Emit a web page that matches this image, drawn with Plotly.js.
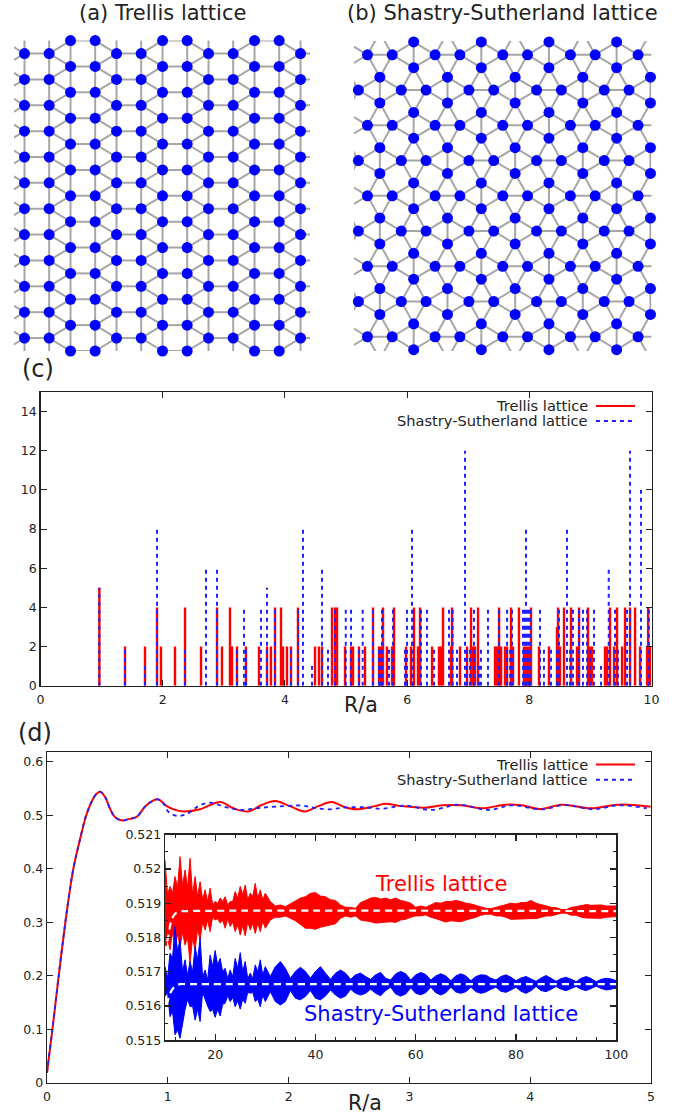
<!DOCTYPE html>
<html><head><meta charset="utf-8">
<script src="https://cdn.plot.ly/plotly-3.0.1.min.js"></script>
<style>html,body{margin:0;padding:0;background:#fff}#g{width:690px;height:1114px}</style>
</head><body><div id="g"></div>
<script>
// ---- (a) trellis lattice, lattice units
const trellisCols=[-0.866,0,1,1.866,2.866,3.732,4.732,5.598,6.598,7.464,8.464,9.33,10.33,11.196,12.196];
const trellisVisibleCols=[0,1,1.866,2.866,3.732,4.732,5.598,6.598,7.464,8.464,9.33,10.33,11.196];
const trellisIntCols=[0,1,3.732,4.732,7.464,8.464,11.196,12.196];
const trellisIntRows=[-1,0,1,2,3,4,5,6,7,8,9,10,11,12];
const trellisHalfRows=[-0.5,0.5,1.5,2.5,3.5,4.5,5.5,6.5,7.5,8.5,9.5,10.5,11.5];
// ---- (b) Shastry-Sutherland lattice: dimer centres, lattice units
const ssGridX=[-4.098,-2.732,-1.366,0,1.366,2.732,4.098,5.464,6.83,8.196,9.562,10.928];
const ssGridY=[-1.366,0,1.366,2.732,4.098,5.464,6.83,8.196,9.562,10.928,12.294];
// ---- (c) distance spectrum
const trellisR=[0.963,1.383,1.71,1.907,1.972,2.201,2.365,2.627,2.889,2.97,3.101,3.134,3.216,3.363,3.576,3.707,3.772,3.838,3.936,3.969,4.034,4.1,4.214,4.493,4.558,4.607,4.771,4.82,4.853,4.984,5.082,5.115,5.213,5.311,5.442,5.541,5.573,5.606,5.671,5.753,5.786,5.982,6.064,6.113,6.178,6.211,6.408,6.522,6.555,6.588,6.719,6.735,6.866,6.981,7.046,7.079,7.112,7.161,7.439,7.472,7.505,7.538,7.603,7.636,7.701,7.734,7.831,7.913,7.946,7.979,8.012,8.028,8.159,8.322,8.453,8.47,8.502,8.568,8.683,8.781,8.814,8.961,8.993,9.026,9.239,9.272,9.321,9.387,9.436,9.518,9.567,9.649,9.731,9.813,9.928,9.944,9.977];
const trellisN=[5,2,2,4,2,2,4,2,4,2,4,2,2,2,2,2,2,4,4,2,2,2,4,2,2,2,4,4,4,2,2,2,2,2,4,2,2,4,2,2,4,2,2,4,2,4,2,2,2,4,2,4,2,2,4,2,2,4,2,2,4,2,2,2,4,2,4,2,2,2,2,4,2,2,3,4,2,4,4,2,4,4,2,2,2,2,4,2,4,2,4,4,4,2,2,4,2];
const ssR=[0.963,1.383,1.71,1.907,2.365,2.709,2.889,3.216,3.331,3.363,3.609,3.707,3.838,4.1,4.214,4.296,4.444,4.607,4.705,4.82,4.996,5.082,5.213,5.273,5.442,5.541,5.573,5.589,5.704,5.769,5.966,5.999,6.08,6.096,6.228,6.326,6.441,6.686,6.746,6.817,6.948,6.981,7.03,7.095,7.177,7.21,7.324,7.505,7.636,7.685,7.717,7.897,7.93,7.946,7.979,8.012,8.175,8.24,8.355,8.453,8.486,8.617,8.666,8.715,8.814,8.879,8.945,8.993,9.059,9.174,9.3,9.403,9.452,9.599,9.649,9.828,9.958];
const ssN=[5,2,1,8,2,6,6,2,4,2,4,5,4,2,4,8,1,6,2,4,4,4,2,4,4,2,2,4,2,4,2,4,8,4,4,4,2,4,4,2,12,2,2,4,1,2,4,4,4,2,4,4,4,8,4,4,4,2,2,2,4,8,2,4,4,4,4,2,4,1,6,4,2,4,12,10,4];
// ---- (d) main curves
const redR=[0,0.045,0.097,0.152,0.183,0.218,0.268,0.325,0.375,0.41,0.44,0.48,0.52,0.56,0.62,0.67,0.742,0.825,0.916,0.991,1.06,1.142,1.266,1.432,1.543,1.667,1.777,1.887,2.01,2.135,2.246,2.356,2.467,2.563,2.716,2.798,2.936,3.13,3.267,3.433,3.61,3.791,3.929,4.081,4.259,4.508,4.729,4.997];
const redV=[0.0187,0.1,0.2,0.3,0.35,0.4,0.45,0.5,0.528,0.54,0.544,0.5346,0.513,0.497,0.49,0.4923,0.497,0.519,0.5297,0.517,0.51,0.507,0.511,0.5246,0.513,0.507,0.519,0.5265,0.517,0.507,0.517,0.5246,0.5148,0.511,0.517,0.5215,0.517,0.514,0.5185,0.5185,0.513,0.5197,0.5185,0.5115,0.5197,0.513,0.5197,0.516];
const blueR=[0,0.045,0.097,0.152,0.183,0.218,0.268,0.325,0.375,0.41,0.44,0.48,0.52,0.56,0.62,0.67,0.742,0.825,0.916,0.963,1.005,1.073,1.156,1.253,1.349,1.487,1.611,1.749,1.9,2.108,2.218,2.329,2.467,2.632,2.771,2.962,3.185,3.405,3.655,3.847,4.094,4.288,4.523,4.729,4.964];
const blueV=[0.0187,0.1,0.2,0.3,0.35,0.4,0.45,0.5,0.528,0.54,0.544,0.5346,0.513,0.497,0.49,0.4923,0.497,0.519,0.5297,0.522,0.5065,0.499,0.502,0.517,0.5235,0.5145,0.51,0.5135,0.516,0.518,0.5135,0.511,0.5145,0.5148,0.512,0.518,0.5098,0.5197,0.5098,0.5185,0.511,0.519,0.511,0.5185,0.513];
// ---- (d) inset: envelope of the fast oscillation, in units of 1e-5. R = 10, 11, ... 100
const insetR=[10,11,12,13,14,15,16,17,18,19,20,21,22,23,24,25,26,27,28,29,30,31,32,33,34,35,36,37,38,39,40,41,42,43,44,45,46,47,48,49,50,51,52,53,54,55,56,57,58,59,60,61,62,63,64,65,66,67,68,69,70,71,72,73,74,75,76,77,78,79,80,81,82,83,84,85,86,87,88,89,90,91,92,93,94,95,96,97,98,99,100];
const redUpper=[52026,51949,51978,52036,51997,52031,51978,51963,51939,51944,51905,51915,51919,51905,51934,51949,51953,51929,51958,51939,51929,51905,51892,51895,51890,51898,51908,51915,51919,51929,51931,51921,51919,51910,51908,51895,51888,51888,51885,51902,51908,51915,51917,51912,51915,51910,51915,51908,51905,51900,51888,51892,51888,51895,51902,51900,51905,51905,51908,51905,51900,51898,51894,51888,51885,51884,51888,51892,51895,51900,51898,51902,51902,51908,51900,51896,51890,51888,51887,51882,51881,51888,51890,51894,51896,51894,51894,51895,51892,51892,51892];
const redLower=[51754,51764,51773,51773,51778,51725,51764,51793,51822,51817,51851,51842,51827,51832,51817,51807,51805,51822,51812,51817,51827,51851,51859,51859,51863,51856,51849,51837,51827,51827,51824,51830,51832,51837,51840,51856,51863,51859,51863,51851,51849,51846,51842,51844,51845,51846,51844,51851,51853,51859,51863,51863,51866,51859,51855,51851,51845,51849,51847,51846,51851,51856,51859,51865,51868,51868,51863,51863,51859,51853,51853,51853,51855,51855,51855,51859,51863,51863,51866,51871,51871,51865,51865,51859,51857,51857,51856,51856,51859,51861,51861];
const blueUpper=[51715,51754,51832,51793,51735,51730,51773,51798,51705,51749,51762,51739,51710,51705,51739,51756,51730,51696,51720,51735,51715,51686,51715,51730,51710,51681,51701,51713,51701,51681,51701,51715,51696,51678,51696,51705,51696,51678,51691,51696,51686,51678,51691,51698,51681,51676,51694,51701,51694,51676,51691,51698,51692,51676,51688,51694,51688,51674,51688,51694,51688,51674,51686,51691,51690,51681,51676,51686,51691,51684,51674,51682,51686,51680,51672,51682,51689,51681,51672,51680,51684,51678,51671,51681,51686,51680,51671,51678,51681,51679,51674];
const blueLower=[51628,51569,51516,51506,51589,51598,51559,51555,51623,51584,51567,51571,51608,51613,51598,51591,51608,51637,51613,51598,51613,51642,51613,51603,51613,51645,51623,51618,51628,51645,51623,51618,51629,51647,51632,51623,51629,51649,51637,51632,51637,51649,51637,51630,51645,51655,51635,51629,51635,51653,51637,51633,51639,51655,51639,51632,51639,51655,51641,51637,51642,51655,51642,51637,51641,51649,51655,51643,51640,51647,51655,51643,51637,51645,51657,51645,51642,51649,51657,51649,51645,51651,51657,51649,51645,51651,51658,51651,51647,51649,51655];
// the spikes' notches in the strongly jagged start of the band, R = 10.5, 11.5, ... 29.5
const redUpperNotch=[51925,51930,51945,51950,51945,51925,51920,51910,51905,51895,51900,51905,51895,51905,51915,51925,51910,51920,51915,51910];
const redLowerNotch=[51800,51815,51810,51815,51800,51800,51825,51845,51850,51860,51855,51850,51855,51845,51838,51835,51845,51840,51842,51848];
const blueUpperNotch=[51680,51740,51760,51700,51690,51700,51735,51685,51675,51715,51720,51700,51680,51685,51710,51700,51680,51680,51700,51690];
const blueLowerNotch=[51640,51585,51530,51550,51620,51600,51590,51640,51600,51590,51590,51605,51630,51625,51615,51620,51640,51640,51620,51632];
const meanR=[10,10.7,11.3,12,13,14,100];
const redMean=[51754,51808,51851,51869,51876,51877,51877];
const blueMean=[51569,51623,51645,51657,51664,51664,51664];

const W=690,H=1114,FONT='"DejaVu Sans", sans-serif',INK='#222';
const fx=p=>p/W, fy=p=>1-p/H;
const scaled=a=>a.map(v=>v/1e5);
function bonds(nodes){const x=[],y=[];
  for(let i=0;i<nodes.length;i++)for(let j=i+1;j<nodes.length;j++){
    const d=Math.hypot(nodes[i][0]-nodes[j][0],nodes[i][1]-nodes[j][1]);
    if(d<1.05){x.push(nodes[i][0],nodes[j][0],null);y.push(nodes[i][1],nodes[j][1],null);}
  }return {x,y};}
function sticks(rs,ns){const x=[],y=[];rs.forEach((r,i)=>{x.push(r,r,null);y.push(0,ns[i],null);});return {x,y};}
// closed outline of a band: envelope values at whole R and notch values at half R, in reading order
function band(up,upN,lo,loN){const x=[],y=[];
  insetR.forEach((r,i)=>{x.push(r);y.push(up[i]);if(i<upN.length){x.push(r+0.5);y.push(upN[i]);}});
  for(let i=insetR.length-1;i>=0;i--){if(i<loN.length){x.push(insetR[i]+0.5);y.push(loN[i]);}x.push(insetR[i]);y.push(lo[i]);}
  return {x,y:scaled(y)};}

// lattice nodes
const tNodes=[];
trellisCols.forEach(c=>{(trellisIntCols.includes(c)?trellisIntRows:trellisHalfRows).forEach(r=>tNodes.push([c,r]));});
const tVis=tNodes.filter(n=>trellisVisibleCols.includes(n[0])&&n[1]>=-0.5&&n[1]<=11.5);
const sNodes=[];
ssGridX.forEach((gx,i)=>ssGridY.forEach((gy,j)=>{
  if((i+j)%2===0){sNodes.push([gx,gy-0.5],[gx,gy+0.5]);} else {sNodes.push([gx-0.5,gy],[gx+0.5,gy]);}
}));
const sXR=[-2.409,9.6], sYR=[11.48,-0.535];
const sVis=sNodes.filter(n=>n[0]>=sXR[0]&&n[0]<=sXR[1]&&n[1]>=sYR[1]&&n[1]<=sYR[0]);
const bondStyle={color:'#a6a6a6',width:2};
const nodeMarker={color:'#0000ff',size:11,line:{width:0}};
const tB=bonds(tNodes),sB=bonds(sNodes);
const sRed=sticks(trellisR,trellisN),sBlue=sticks(ssR,ssN);
const DASH='4px,4px';
const bandRed=band(redUpper,redUpperNotch,redLower,redLowerNotch);
const bandBlue=band(blueUpper,blueUpperNotch,blueLower,blueLowerNotch);

const traces=[
 {x:tB.x,y:tB.y,xaxis:'x',yaxis:'y',mode:'lines',line:bondStyle,name:'Trellis bonds',hoverinfo:'skip'},
 {x:tVis.map(n=>n[0]),y:tVis.map(n=>n[1]),xaxis:'x',yaxis:'y',mode:'markers',marker:nodeMarker,cliponaxis:false,name:'Trellis sites'},
 {x:sB.x,y:sB.y,xaxis:'x2',yaxis:'y2',mode:'lines',line:bondStyle,name:'Shastry-Sutherland bonds',hoverinfo:'skip'},
 {x:sVis.map(n=>n[0]),y:sVis.map(n=>n[1]),xaxis:'x2',yaxis:'y2',mode:'markers',marker:nodeMarker,cliponaxis:false,name:'Shastry-Sutherland sites'},
 {x:sRed.x,y:sRed.y,xaxis:'x3',yaxis:'y3',mode:'lines',line:{color:'#ff0000',width:2.4},name:'Trellis lattice'},
 {x:sBlue.x,y:sBlue.y,xaxis:'x3',yaxis:'y3',mode:'lines',line:{color:'#2020ff',width:2,dash:DASH},name:'Shastry-Sutherland lattice'},
 {x:redR,y:redV,xaxis:'x4',yaxis:'y4',mode:'lines',line:{color:'#ff0000',width:2,shape:'spline',smoothing:1},name:'Trellis lattice'},
 {x:blueR,y:blueV,xaxis:'x4',yaxis:'y4',mode:'lines',line:{color:'#2020ff',width:1.8,shape:'spline',smoothing:1,dash:DASH},name:'Shastry-Sutherland lattice'},
 {x:bandRed.x,y:bandRed.y,xaxis:'x5',yaxis:'y5',mode:'lines',fill:'toself',fillcolor:'#ff0000',line:{color:'#ff0000',width:1},name:'Trellis lattice'},
 {x:bandBlue.x,y:bandBlue.y,xaxis:'x5',yaxis:'y5',mode:'lines',fill:'toself',fillcolor:'#0000ff',line:{color:'#0000ff',width:1},name:'Shastry-Sutherland lattice'},
 {x:meanR,y:scaled(redMean),xaxis:'x5',yaxis:'y5',mode:'lines',line:{color:'#ffffff',width:2.2,dash:'7px,5px',shape:'spline'},name:'Trellis mean'},
 {x:meanR,y:scaled(blueMean),xaxis:'x5',yaxis:'y5',mode:'lines',line:{color:'#ffffff',width:2.2,dash:'7px,5px',shape:'spline'},name:'Shastry-Sutherland mean'}
];

function frame(extra){return Object.assign({showline:true,linecolor:INK,linewidth:1.3,mirror:'ticks',ticks:'inside',ticklen:6,tickwidth:1.1,tickcolor:INK,showgrid:false,zeroline:false,tickfont:{family:FONT,size:12.5,color:INK}},extra);}
const hidden={visible:false,showgrid:false,zeroline:false};
const insetYTicks=[0.515,0.516,0.517,0.518,0.519,0.52,0.521];
const insetYText=['0.515','0.516','0.517','0.518','0.519','0.52','0.521'];
const insetYMinor=[0.5155,0.5165,0.5175,0.5185,0.5195,0.5205];

function note(text,x,y,size,color,anchor){return {text,xref:'paper',yref:'paper',x:fx(x),y:fy(y),showarrow:false,xanchor:anchor||'center',yanchor:'middle',font:{family:FONT,size,color:color||INK}};}
function sample(y,color,dash){return {type:'line',xref:'paper',yref:'paper',x0:fx(596),x1:fx(635),y0:fy(y),y1:fy(y),line:{color,width:2,dash}};}

const layout={width:W,height:H,autosize:false,margin:{l:0,r:0,t:0,b:0},paper_bgcolor:'#fff',plot_bgcolor:'rgba(0,0,0,0)',showlegend:false,hovermode:false,
 xaxis:Object.assign({domain:[fx(14),fx(310)],range:[-0.426,11.58],anchor:'y'},hidden),
 yaxis:Object.assign({domain:[fy(351),fy(40.6)],range:[-0.5,11.5],anchor:'x'},hidden),
 xaxis2:Object.assign({domain:[fx(354),fx(651.4)],range:sXR,anchor:'y2'},hidden),
 yaxis2:Object.assign({domain:[fy(351),fy(41)],range:sYR,anchor:'x2'},hidden),
 xaxis3:frame({domain:[fx(40.5),fx(651.5)],range:[0,10],dtick:2,tick0:0,anchor:'y3',ticklabelstandoff:2}),
 yaxis3:frame({domain:[fy(685.7),fy(392)],range:[0,15],dtick:2,tick0:0,anchor:'x3'}),
 xaxis4:frame({domain:[fx(47),fx(651)],range:[0,5],dtick:1,tick0:0,anchor:'y4',ticklabelstandoff:2}),
 yaxis4:frame({domain:[fy(1082.7),fy(752.3)],range:[0,0.6176],dtick:0.1,tick0:0,anchor:'x4'}),
 xaxis5:frame({domain:[fx(165),fx(616.3)],range:[10,100],dtick:20,tick0:0,anchor:'y5',ticklabelstandoff:2,minor:{ticks:'inside',dtick:4,tick0:0,ticklen:3,tickcolor:INK,tickwidth:1}}),
 yaxis5:frame({domain:[fy(1040.3),fy(834.7)],range:[0.515,0.521],tickmode:'array',tickvals:insetYTicks,ticktext:insetYText,anchor:'x5',minor:{ticks:'inside',tickmode:'array',tickvals:insetYMinor,ticklen:3,tickcolor:INK,tickwidth:1}}),
 annotations:[
  note('(a) Trellis lattice',162.3,13,21),
  note('(b) Shastry-Sutherland lattice',502.5,13,21),
  note('(c)',38,369,24),
  note('(d)',35,733,24),
  note('R/a',361,705,20.5),
  note('R/a',365,1103,20.5),
  note('Trellis lattice',590,406,14.6,INK,'right'),
  note('Shastry-Sutherland lattice',590,421,14.6,INK,'right'),
  note('Trellis lattice',590,764.5,14.6,INK,'right'),
  note('Shastry-Sutherland lattice',590,779.7,14.6,INK,'right'),
  note('Trellis lattice',441,884,21,'#ff0000'),
  note('Shastry-Sutherland lattice',441,1014,21,'#0000ff')
 ],
 shapes:[sample(406,'#ff0000','solid'),sample(421,'#2020ff',DASH),sample(764.5,'#ff0000','solid'),sample(779.7,'#2020ff',DASH)]
};
Plotly.newPlot('g',traces,layout,{displayModeBar:false,staticPlot:true});
</script></body></html>
